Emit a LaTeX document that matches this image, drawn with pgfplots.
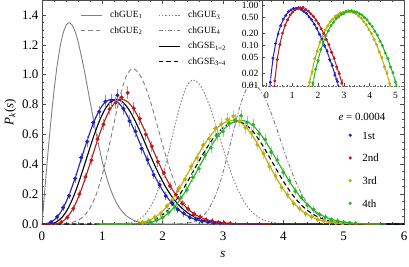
\documentclass[border=0pt]{standalone}
\usepackage{fontspec}
\setmainfont{Liberation Serif}
\usepackage{pgfplots}
\usepackage{pgfplotstable}
\pgfplotsset{compat=1.18}
\definecolor{cB}{RGB}{30,30,200}
\definecolor{cR}{RGB}{190,25,25}
\definecolor{cY}{RGB}{185,175,0}
\definecolor{cG}{RGB}{35,180,35}
\definecolor{cGr}{RGB}{128,128,128}

% chGUE_1
\pgfplotstableread{
s P
0 0
0.05 0.2454
0.1 0.4818
0.15 0.7007
0.2 0.8948
0.25 1.0583
0.3 1.1866
0.35 1.2772
0.4 1.3298
0.45 1.3478
0.5 1.3312
0.55 1.2866
0.6 1.2181
0.7 1.0313
0.8 0.8137
0.9 0.6015
1.0 0.4182
1.1 0.2738
1.2 0.1691
1.3 0.0988
1.4 0.0547
1.5 0.0287
1.6 0.0142
1.8 0.00298
2.0 0.00051
2.4 0
6 0
}\tGUEa
% chGUE_2
\pgfplotstableread{
s P
0 0
0.3 0.0014
0.4 0.004
0.5 0.0106
0.6 0.0252
0.7 0.0551
0.8 0.1097
0.9 0.1992
1.0 0.33
1.1 0.4989
1.2 0.688
1.3 0.8655
1.4 0.9933
1.5 1.04
1.6 1.0123
1.7 0.9334
1.8 0.8154
1.9 0.6747
2.0 0.529
2.1 0.3929
2.2 0.2764
2.3 0.1843
2.4 0.1164
2.5 0.0696
2.6 0.0394
2.7 0.0212
2.9 0.0052
3.1 0.001
3.5 0
6 0
}\tGUEb
% chGUE_3
\pgfplotstableread{
s P
0 0
1.1 0.0002
1.3 0.0019
1.4 0.0052
1.5 0.0128
1.6 0.029
1.7 0.0606
1.8 0.1159
1.9 0.2034
2.0 0.3273
2.1 0.483
2.2 0.6539
2.3 0.8117
2.4 0.9242
2.5 0.965
2.6 0.9404
2.7 0.8703
2.8 0.7649
2.9 0.6383
3.0 0.506
3.1 0.3808
3.2 0.2722
3.3 0.1848
3.4 0.1191
3.5 0.0729
3.6 0.0424
3.7 0.0234
3.9 0.0061
4.1 0.0013
4.5 0
6 0
}\tGUEc
% chGUE_4
\pgfplotstableread{
s P
0 0
2.08 0.0002
2.28 0.0018
2.38 0.005
2.48 0.0124
2.58 0.0281
2.68 0.0587
2.78 0.1123
2.88 0.1971
2.98 0.3171
3.08 0.468
3.18 0.6335
3.28 0.7865
3.38 0.8954
3.48 0.935
3.58 0.9141
3.68 0.8541
3.78 0.7627
3.88 0.6509
3.98 0.5309
4.08 0.4139
4.18 0.3084
4.28 0.2196
4.38 0.1495
4.48 0.0972
4.58 0.0604
4.68 0.0359
4.78 0.0204
4.88 0.0111
5.08 0.0028
5.28 0.0006
5.6 0
6 0
}\tGUEd
% chGSE_{1=2}
\pgfplotstableread{
s P
0 0
0.135 0.00116
0.235 0.01283
0.335 0.04594
0.435 0.10695
0.535 0.19653
0.635 0.30931
0.735 0.4352
0.835 0.5612
0.935 0.67394
1.035 0.7618
1.135 0.8167
1.235 0.835
1.335 0.8177
1.435 0.7694
1.535 0.6974
1.635 0.61024
1.735 0.51633
1.835 0.42306
1.935 0.33604
2.035 0.259
2.135 0.19391
2.235 0.1411
2.335 0.09981
2.435 0.06871
2.535 0.04606
2.635 0.03006
2.735 0.01913
2.835 0.01186
2.935 0.00716
3.035 0.00422
3.135 0.0024
3.235 0.0013
3.7 0
6 0
}\tGSEa
% chGSE_{3=4}
\pgfplotstableread{
s P
0 0
1.235 0.00005
1.435 0.00067
1.535 0.00198
1.635 0.00508
1.735 0.01155
1.835 0.02352
1.935 0.04341
2.035 0.07343
2.135 0.11487
2.235 0.16767
2.335 0.23037
2.435 0.30002
2.535 0.3729
2.635 0.4449
2.735 0.5122
2.835 0.5714
2.935 0.6198
3.035 0.6557
3.135 0.6776
3.235 0.685
3.335 0.6749
3.435 0.6455
3.535 0.5992
3.635 0.54
3.735 0.4724
3.835 0.4011
3.935 0.3307
4.035 0.2646
4.135 0.2055
4.235 0.155
4.335 0.1134
4.435 0.0806
4.535 0.0556
4.635 0.0372
4.735 0.0242
4.835 0.0152
4.935 0.0093
5.035 0.0055
5.235 0.0018
5.6 0
6 0
}\tGSEb
% fits
\pgfplotstableread{
s P
0 0
0.05 0.00116
0.15 0.01283
0.25 0.04594
0.35 0.10695
0.45 0.19653
0.55 0.30931
0.65 0.4352
0.75 0.5612
0.85 0.67394
0.95 0.7618
1.05 0.8167
1.15 0.835
1.25 0.8177
1.35 0.7694
1.45 0.6974
1.55 0.61024
1.65 0.51633
1.75 0.42306
1.85 0.33604
1.95 0.259
2.05 0.19391
2.15 0.1411
2.25 0.09981
2.35 0.06871
2.45 0.04606
2.55 0.03006
2.65 0.01913
2.75 0.01186
2.85 0.00716
2.95 0.00422
3.05 0.0024
3.15 0.0013
3.6 0
}\fB
\pgfplotstableread{
s P
0 0
0.22 0.00116
0.32 0.01283
0.42 0.04594
0.52 0.10695
0.62 0.19653
0.72 0.30931
0.82 0.4352
0.92 0.5612
1.02 0.67394
1.12 0.7618
1.22 0.8167
1.32 0.835
1.42 0.8177
1.52 0.7694
1.62 0.6974
1.72 0.61024
1.82 0.51633
1.92 0.42306
2.02 0.33604
2.12 0.259
2.22 0.19391
2.32 0.1411
2.42 0.09981
2.52 0.06871
2.62 0.04606
2.72 0.03006
2.82 0.01913
2.92 0.01186
3.02 0.00716
3.12 0.00422
3.22 0.0024
3.32 0.0013
3.8 0
}\fR
\pgfplotstableread{
s P
1.0 0
1.17 0.00005
1.27 0.0002
1.37 0.00068
1.47 0.002
1.57 0.00515
1.67 0.01172
1.77 0.02387
1.87 0.04404
1.97 0.0745
2.07 0.11655
2.17 0.17012
2.27 0.23373
2.37 0.3044
2.47 0.37834
2.57 0.4514
2.67 0.51968
2.77 0.57972
2.87 0.62888
2.97 0.66523
3.07 0.6875
3.17 0.695
3.27 0.684
3.37 0.6521
3.47 0.6021
3.57 0.5385
3.67 0.4665
3.77 0.3915
3.87 0.3182
3.97 0.2505
4.07 0.191
4.17 0.1411
4.27 0.101
4.37 0.07
4.47 0.047
4.57 0.0305
4.67 0.0192
4.77 0.01173
4.87 0.00693
4.97 0.00397
5.07 0.0022
5.17 0.00118
5.37 0.00031
5.6 0
}\fY
\pgfplotstableread{
s P
0.9 0
1.3 0.00005
1.4 0.0002
1.5 0.00068
1.6 0.002
1.7 0.00515
1.8 0.01172
1.9 0.02387
2.0 0.04404
2.1 0.0745
2.2 0.11655
2.3 0.17012
2.4 0.23373
2.5 0.3044
2.6 0.37834
2.7 0.4514
2.8 0.51968
2.9 0.57972
3.0 0.62888
3.1 0.66523
3.2 0.6875
3.3 0.695
3.4 0.6854
3.5 0.6574
3.6 0.6133
3.7 0.5565
3.8 0.4911
3.9 0.4215
4.0 0.3519
4.1 0.2857
4.2 0.2256
4.3 0.1733
4.4 0.1295
4.5 0.0941
4.6 0.0665
4.7 0.0457
4.8 0.0305
4.9 0.01985
5.0 0.01256
5.1 0.00772
5.2 0.00462
5.3 0.00269
5.5 0.00083
5.7 0
}\fG
% data
\pgfplotstableread{
s P e
0.15 0.012 0.003
0.25 0.048 0.005
0.35 0.110 0.008
0.45 0.190 0.012
0.55 0.305 0.015
0.65 0.445 0.018
0.75 0.552 0.021
0.85 0.680 0.024
0.95 0.752 0.026
1.05 0.820 0.028
1.15 0.825 0.029
1.25 0.862 0.030
1.35 0.772 0.028
1.45 0.690 0.027
1.55 0.620 0.025
1.65 0.505 0.023
1.75 0.430 0.021
1.85 0.330 0.018
1.95 0.262 0.016
2.05 0.188 0.014
2.15 0.143 0.012
2.25 0.097 0.010
2.35 0.071 0.008
2.45 0.044 0.006
2.55 0.031 0.005
2.65 0.018 0.004
2.75 0.0125 0.003
2.85 0.0072 0.002
2.95 0.0045 0.0015
}\dB
\pgfplotstableread{
s P e
0.32 0.013 0.003
0.42 0.044 0.005
0.52 0.104 0.008
0.62 0.200 0.012
0.72 0.315 0.015
0.82 0.428 0.018
0.92 0.568 0.021
1.02 0.668 0.024
1.12 0.770 0.026
1.22 0.812 0.028
1.32 0.848 0.029
1.42 0.878 0.030
1.52 0.775 0.028
1.62 0.705 0.027
1.72 0.600 0.025
1.82 0.520 0.023
1.92 0.418 0.021
2.02 0.342 0.018
2.12 0.255 0.016
2.22 0.197 0.014
2.32 0.138 0.012
2.42 0.102 0.010
2.52 0.067 0.008
2.62 0.047 0.006
2.72 0.029 0.005
2.82 0.0195 0.004
2.92 0.0115 0.003
3.02 0.0075 0.002
3.12 0.0043 0.0015
}\dR
\pgfplotstableread{
s P e
1.67 0.012 0.003
1.77 0.022 0.004
1.87 0.046 0.006
1.97 0.072 0.008
2.07 0.120 0.010
2.17 0.165 0.012
2.27 0.240 0.014
2.37 0.300 0.016
2.47 0.385 0.018
2.57 0.445 0.020
2.67 0.528 0.022
2.77 0.572 0.023
2.87 0.640 0.025
2.97 0.668 0.026
3.07 0.700 0.027
3.17 0.722 0.028
3.27 0.688 0.027
3.37 0.645 0.026
3.47 0.610 0.025
3.57 0.530 0.024
3.67 0.472 0.022
3.77 0.385 0.020
3.87 0.322 0.018
3.97 0.245 0.016
4.07 0.195 0.014
4.17 0.138 0.012
4.27 0.104 0.010
4.37 0.068 0.008
4.47 0.049 0.006
4.57 0.029 0.005
4.67 0.020 0.004
4.77 0.0112 0.003
4.87 0.0072 0.002
4.97 0.0038 0.0012
}\dY
\pgfplotstableread{
s P e
1.8 0.0115 0.003
1.9 0.025 0.004
2.0 0.042 0.006
2.1 0.078 0.008
2.2 0.113 0.010
2.3 0.175 0.012
2.4 0.228 0.014
2.5 0.312 0.016
2.6 0.372 0.018
2.7 0.460 0.020
2.8 0.512 0.022
2.9 0.590 0.023
3.0 0.620 0.025
3.1 0.675 0.026
3.2 0.695 0.027
3.3 0.725 0.028
3.4 0.680 0.027
3.5 0.665 0.026
3.6 0.605 0.025
3.7 0.565 0.024
3.8 0.482 0.022
3.9 0.428 0.020
4.0 0.345 0.018
4.1 0.290 0.016
4.2 0.220 0.014
4.3 0.178 0.012
4.4 0.126 0.010
4.5 0.097 0.008
4.6 0.064 0.006
4.7 0.047 0.005
4.8 0.029 0.004
4.9 0.0205 0.003
5.0 0.0122 0.0025
5.1 0.0079 0.002
5.2 0.0045 0.0012
}\dG

\pgfplotsset{
  dataM/.style={only marks, mark=*, mark size=1.8pt, #1, mark options={solid, fill=#1, draw=#1},
    error bars/.cd, y dir=both, y explicit,
    error bar style={#1!55!white, line width=0.7pt},
    error mark options={#1!55!white, mark size=2pt, line width=0.7pt},
    /pgfplots/.cd},
  dataI/.style={only marks, mark=*, mark size=1.3pt, #1, mark options={solid, fill=#1, draw=#1},
    error bars/.cd, y dir=both, y explicit, error mark=none,
    error bar style={#1!60!white, line width=0.5pt},
    /pgfplots/.cd},
  guestyle/.style={cGr, line width=0.9pt},
}

\begin{document}
\begin{tikzpicture}
\useasboundingbox (-42pt,-42pt) rectangle (367pt,224pt);
\begin{axis}[
  at={(0pt,0pt)}, anchor=south west,
  width=362pt, height=224pt, scale only axis,
  xmin=0, xmax=6, ymin=0, ymax=1.5,
  xtick={0,1,2,3,4,5,6}, xticklabels={0,1,2,3,4,5,6},
  ytick={0,0.2,0.4,0.6,0.8,1.0,1.2,1.4},
  yticklabels={0.0,0.2,0.4,0.6,0.8,1.0,1.2,1.4},
  minor x tick num=4, minor y tick num=3,
  tick align=inside, tick pos=both,
  major tick length=4pt, minor tick length=2pt,
  axis line style={black!70}, tick style={black!70, line width=0.5pt},
  tick label style={font=\fontsize{13}{14}\selectfont},
  xticklabel shift=4pt,
  xlabel={\textit{s}},
  ylabel={\textit{P}\textsubscript{\textit{k}}(\textit{s})},
  label style={font=\fontsize{13}{14}\selectfont},
  xlabel style={at={(axis description cs:0.5,-0.138)}, anchor=center},
  ylabel style={at={(axis description cs:-0.088,0.5)}, anchor=center},
  legend columns=2,
  legend image code/.code={\draw[#1] (0pt,0pt) -- (21pt,0pt);},
  legend style={at={(axis description cs:0.10497,0.95089)}, anchor=north west,
    draw=none, fill=none, inner sep=0pt,
    font=\fontsize{9.5}{10}\selectfont,
    column sep=8pt, row sep=7.5pt,
    nodes={inner sep=0pt, text height=6.5pt, text depth=1.5pt},
    cells={anchor=west}},
]
\addplot[guestyle, smooth, forget plot] table[x=s,y=P]{\tGUEa};
\addplot[guestyle, dash pattern=on 4.5pt off 3pt, smooth, forget plot] table[x=s,y=P]{\tGUEb};
\addplot[guestyle, dash pattern=on 1.5pt off 1.8pt, smooth, forget plot] table[x=s,y=P]{\tGUEc};
\addplot[guestyle, dash pattern=on 4pt off 2pt on 1.2pt off 2pt, smooth, forget plot] table[x=s,y=P]{\tGUEd};
\addplot[black, line width=1.1pt, smooth, forget plot] table[x=s,y=P]{\tGSEa};
\addplot[black, line width=1.1pt, dash pattern=on 4.5pt off 3pt, smooth, forget plot] table[x=s,y=P]{\tGSEb};
\addplot[cB, line width=1.1pt, smooth, forget plot] table[x=s,y=P]{\fB};
\addplot[cR, line width=1.1pt, smooth, forget plot] table[x=s,y=P]{\fR};
\addplot[cY, line width=1.1pt, smooth, forget plot] table[x=s,y=P]{\fY};
\addplot[cG, line width=1.1pt, smooth, forget plot] table[x=s,y=P]{\fG};
\addplot[forget plot, dataM=cB] table[x=s,y=P,y error=e]{\dB};
\addplot[forget plot, dataM=cR] table[x=s,y=P,y error=e]{\dR};
\addplot[forget plot, dataM=cY] table[x=s,y=P,y error=e]{\dY};
\addplot[forget plot, dataM=cG] table[x=s,y=P,y error=e]{\dG};

\addlegendimage{guestyle}
\addlegendentry{\makebox[40pt][l]{chGUE\textsubscript{1}}}
\addlegendimage{guestyle, dash pattern=on 1.5pt off 1.8pt}
\addlegendentry{chGUE\textsubscript{3}}
\addlegendimage{guestyle, dash pattern=on 4.5pt off 3pt}
\addlegendentry{\makebox[40pt][l]{chGUE\textsubscript{2}}}
\addlegendimage{guestyle, dash pattern=on 4pt off 2pt on 1.2pt off 2pt}
\addlegendentry{chGUE\textsubscript{4}}
\addlegendimage{empty legend}
\addlegendentry{}
\addlegendimage{black, line width=1.1pt}
\addlegendentry{chGSE\textsubscript{1=2}}
\addlegendimage{empty legend}
\addlegendentry{}
\addlegendimage{black, line width=1.1pt, dash pattern=on 4.5pt off 3pt}
\addlegendentry{chGSE\textsubscript{3=4}}

\node[font=\fontsize{11}{12}\selectfont, anchor=center] at (axis description cs:0.88398,0.47634) {\textit{e} = 0.0004};
\end{axis}

% marker legend
\begin{axis}[
  at={(0pt,0pt)}, anchor=south west,
  width=362pt, height=224pt, scale only axis, hide axis,
  xmin=0, xmax=1, ymin=0, ymax=1,
  legend image code/.code={\fill[#1] (0pt,0pt) circle (1.4pt);},
  legend style={at={(axis description cs:0.84641,0.41518)}, anchor=north west,
    draw=none, fill=none, inner sep=0pt,
    font=\fontsize{11}{12}\selectfont,
    column sep=10.5pt, row sep=14.7pt,
    nodes={inner sep=0pt, text height=8pt, text depth=0pt},
    cells={anchor=west}},
]
\addlegendimage{cB}\addlegendentry{1st}
\addlegendimage{cR}\addlegendentry{2nd}
\addlegendimage{cY}\addlegendentry{3rd}
\addlegendimage{cG}\addlegendentry{4th}
\end{axis}

% inset
\begin{axis}[
  at={(220pt,138pt)}, anchor=south west,
  width=142pt, height=86pt, scale only axis,
  xmin=-0.174, xmax=5.33, ymode=log, ymin=0.0097, ymax=1.33,
  axis x line*=bottom, axis y line*=left,
  x axis line style={black!55, densely dotted},
  y axis line style={black!70},
  xtick={0,1,2,3,4,5}, xticklabels={0,1,2,3,4,5}, minor x tick num=4,
  ytick={0.01,0.02,0.05,0.1,0.2,0.5,1},
  yticklabels={0.01,0.02,0.05,0.10,0.20,0.50,1.00},
  tick align=inside, major tick length=3pt, minor tick length=1.5pt,
  tick style={black!70, line width=0.5pt},
  tick label style={font=\fontsize{9.5}{10}\selectfont},
  xticklabel shift=2.5pt,
]
\addplot[cB, line width=1pt] table[x=s,y=P]{\fB};
\addplot[cR, line width=1pt] table[x=s,y=P]{\fR};
\addplot[cY, line width=1pt] table[x=s,y=P]{\fY};
\addplot[cG, line width=1pt] table[x=s,y=P]{\fG};
\addplot[dataI=cB] table[x=s,y=P,y error=e]{\dB};
\addplot[dataI=cR] table[x=s,y=P,y error=e]{\dR};
\addplot[dataI=cY] table[x=s,y=P,y error=e]{\dY};
\addplot[dataI=cG] table[x=s,y=P,y error=e]{\dG};
\end{axis}
\end{tikzpicture}
\end{document}
